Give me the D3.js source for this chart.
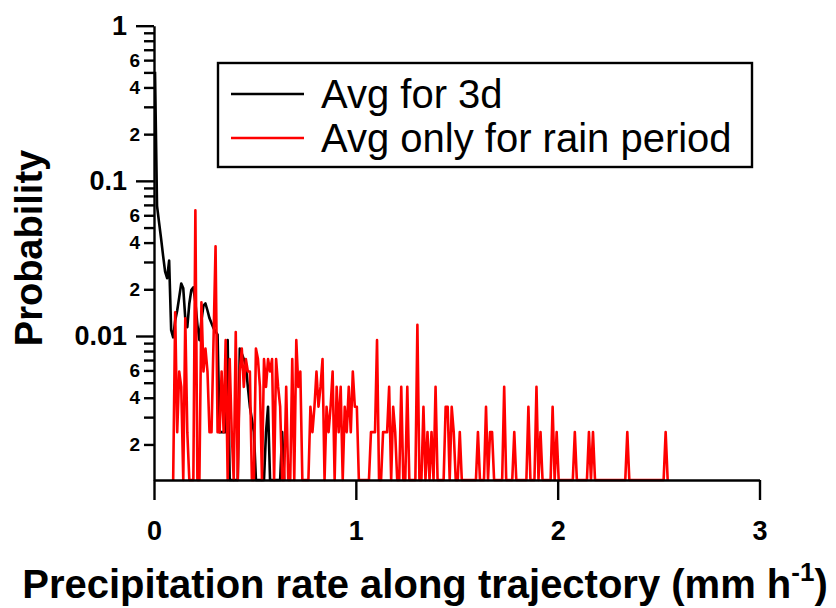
<!DOCTYPE html>
<html>
<head>
<meta charset="utf-8">
<script src="https://cdn.jsdelivr.net/npm/d3@7"></script>
<style>
  body { margin: 0; background: #fff; }
  svg text { font-family: "Liberation Sans", Arial, sans-serif; }
</style>
</head>
<body>
<svg id="chart" width="836" height="608"></svg>
<script>
// probability per 0.01 mm/h bin, [rate, probability]; 0 = empty bin
const avg3d = [
  [0.005, 0.505], [0.015, 0.069], [0.025, 0.054], [0.035, 0.0426], [0.045, 0.033],
  [0.055, 0.026], [0.065, 0.0236], [0.075, 0.0306], [0.085, 0.0109], [0.095, 0.0098],
  [0.105, 0.0126], [0.115, 0.0146], [0.125, 0.0178], [0.135, 0.0218], [0.145, 0.0203],
  [0.155, 0.013], [0.165, 0.0114], [0.175, 0.0162], [0.185, 0.0198], [0.195, 0.0206],
  [0.205, 0.0165], [0.215, 0.0118], [0.225, 0.0094], [0.235, 0.0126], [0.245, 0.0157],
  [0.255, 0.0162], [0.265, 0.0146], [0.275, 0.013], [0.285, 0.0121], [0.295, 0.0112],
  [0.305, 0.0107], [0.315, 0.0102], [0.325, 0.0024], [0.335, 0.0024], [0.345, 0.0024],
  [0.355, 0.0024], [0.365, 0.0094], [0.375, 0], [0.415, 0], [0.425, 0.0083],
  [0.435, 0.0077], [0.445, 0.0071], [0.455, 0.0065], [0.465, 0.0047], [0.475, 0.0035],
  [0.485, 0.0029], [0.495, 0.0024], [0.505, 0], [0.545, 0], [0.555, 0.0024],
  [0.565, 0.0035], [0.575, 0], [0.625, 0], [0.635, 0.0024], [0.645, 0]
];

const avgRain = [
  [0.095, 0], [0.105, 0.0142], [0.115, 0.0024], [0.125, 0.0059], [0.135, 0.0047],
  [0.145, 0], [0.155, 0.013], [0.165, 0.0024], [0.175, 0], [0.195, 0],
  [0.205, 0.0647], [0.215, 0], [0.225, 0], [0.235, 0.0165], [0.245, 0.0059],
  [0.255, 0.0083], [0.265, 0.0059], [0.275, 0.0024], [0.285, 0.0024], [0.305, 0.0379],
  [0.315, 0.0024], [0.325, 0.0024], [0.335, 0.0059], [0.345, 0.0024], [0.355, 0.0094],
  [0.365, 0], [0.375, 0.0071], [0.385, 0.0024], [0.395, 0], [0.405, 0.0106],
  [0.415, 0], [0.425, 0.0059], [0.435, 0.0083], [0.445, 0.0047], [0.455, 0.0071],
  [0.465, 0.0059], [0.475, 0.0059], [0.485, 0], [0.495, 0], [0.505, 0.0083],
  [0.515, 0.0071], [0.525, 0.0047], [0.535, 0], [0.545, 0.0071], [0.555, 0.0047],
  [0.565, 0.0071], [0.575, 0.0059], [0.585, 0.0071], [0.595, 0], [0.605, 0.0071],
  [0.615, 0.0047], [0.625, 0.0035], [0.635, 0], [0.645, 0], [0.655, 0.0047],
  [0.665, 0], [0.675, 0], [0.685, 0.0071], [0.695, 0], [0.705, 0.0094],
  [0.715, 0.0047], [0.725, 0.0059], [0.735, 0], [0.765, 0], [0.775, 0.0035],
  [0.785, 0.0024], [0.795, 0.0035], [0.805, 0.0059], [0.815, 0.0035], [0.825, 0.0047],
  [0.835, 0.0071], [0.845, 0], [0.855, 0.0035], [0.865, 0.0024], [0.875, 0.0035],
  [0.885, 0.0059], [0.895, 0], [0.905, 0.0047], [0.915, 0.0024], [0.925, 0.0047],
  [0.935, 0], [0.945, 0.0035], [0.955, 0.0024], [0.965, 0.0047], [0.975, 0.0024],
  [0.985, 0.0059], [0.995, 0.0035], [1.005, 0.0035], [1.015, 0], [1.065, 0],
  [1.075, 0.0024], [1.085, 0.0024], [1.095, 0.0024], [1.105, 0.0094], [1.115, 0],
  [1.125, 0], [1.135, 0.0024], [1.145, 0.0024], [1.155, 0.0024], [1.165, 0.0047],
  [1.175, 0], [1.185, 0.0035], [1.195, 0.0024], [1.205, 0], [1.215, 0],
  [1.225, 0.0047], [1.235, 0], [1.245, 0], [1.255, 0.0047], [1.265, 0],
  [1.295, 0], [1.305, 0.0118], [1.315, 0], [1.325, 0], [1.335, 0.0035],
  [1.345, 0], [1.355, 0.0024], [1.365, 0], [1.375, 0.0024], [1.385, 0],
  [1.395, 0.0047], [1.405, 0], [1.435, 0], [1.445, 0.0035], [1.455, 0.0035],
  [1.465, 0], [1.475, 0.0035], [1.485, 0.0024], [1.495, 0], [1.505, 0],
  [1.515, 0.0024], [1.525, 0], [1.595, 0], [1.605, 0.0024], [1.615, 0],
  [1.635, 0], [1.645, 0.0035], [1.655, 0], [1.665, 0.0024], [1.675, 0.0024],
  [1.685, 0], [1.725, 0], [1.735, 0.0047], [1.745, 0], [1.775, 0],
  [1.785, 0.0024], [1.795, 0], [1.845, 0], [1.855, 0.0035], [1.865, 0],
  [1.885, 0], [1.895, 0.0047], [1.905, 0], [1.915, 0.0024], [1.925, 0],
  [1.965, 0], [1.975, 0.0035], [1.985, 0], [1.995, 0.0024], [2.005, 0],
  [2.075, 0], [2.085, 0.0024], [2.095, 0], [2.145, 0], [2.155, 0.0024],
  [2.165, 0], [2.175, 0.0024], [2.185, 0], [2.335, 0], [2.345, 0.0024],
  [2.355, 0], [2.525, 0], [2.535, 0.0024], [2.545, 0]
];

const seriesNames = ["Avg for 3d", "Avg only for rain period"];
const seriesColors = ["#000000", "#ff0000"];

const xTicks = [0, 1, 2, 3];
const yMajorTicks = [0.01, 0.1, 1];
const yMajorLabels = ["0.01", "0.1", "1"];
const yMinorTicks = [0.002, 0.003, 0.004, 0.005, 0.006, 0.007, 0.008, 0.009,
                     0.02, 0.03, 0.04, 0.05, 0.06, 0.07, 0.08, 0.09,
                     0.2, 0.3, 0.4, 0.5, 0.6, 0.7, 0.8, 0.9];
const yMinorLabeled = { 2: "2", 4: "4", 6: "6" };

const yMin = 0.00118;

const svg = d3.select("#chart");
const plotLeft = 154, plotRight = 759.5, plotTop = 25.7, plotBottom = 480;

const x = d3.scaleLinear().domain([0, 3]).range([plotLeft, plotRight]);
const y = d3.scaleLog().domain([yMin, 1]).range([plotBottom, plotTop]);

const line = d3.line()
    .x(d => x(d[0]))
    .y(d => y(Math.max(d[1], yMin)));

// series
[avg3d, avgRain].forEach((data, i) => {
    svg.append("path")
        .datum(data)
        .attr("fill", "none")
        .attr("stroke", seriesColors[i])
        .attr("stroke-width", 2.6)
        .attr("stroke-linejoin", "round")
        .attr("d", line);
});

// y axis: majors
const yAxisMajor = svg.append("g")
    .attr("transform", `translate(${plotLeft},0)`)
    .call(d3.axisLeft(y).tickValues(yMajorTicks).tickSize(18).tickSizeOuter(0)
        .tickPadding(9).tickFormat((d, i) => yMajorLabels[i]));

// y axis: minors
const yAxisMinor = svg.append("g")
    .attr("transform", `translate(${plotLeft},0)`)
    .call(d3.axisLeft(y).tickValues(yMinorTicks).tickSize(10).tickPadding(4)
        .tickFormat(d => {
            const m = Math.round(d / Math.pow(10, Math.floor(Math.log10(d) + 1e-9)));
            return yMinorLabeled[m] || "";
        }));
yAxisMinor.select(".domain").remove();

// x axis
const xAxis = svg.append("g")
    .attr("transform", `translate(0,${plotBottom})`)
    .call(d3.axisBottom(x).tickValues(xTicks).tickSize(20).tickSizeOuter(0)
        .tickPadding(21).tickFormat(d3.format("d")));

svg.selectAll(".domain, .tick line")
    .attr("stroke", "#000")
    .attr("stroke-width", 2.4);

yAxisMajor.selectAll("text")
    .style("font-size", "27px").style("font-weight", "bold").attr("fill", "#000");
yAxisMinor.selectAll("text")
    .style("font-size", "19px").style("font-weight", "bold").attr("fill", "#000");
xAxis.selectAll("text")
    .style("font-size", "27px").style("font-weight", "bold").attr("fill", "#000");

// axis titles
svg.append("text")
    .attr("transform", "translate(42,248) rotate(-90)")
    .attr("text-anchor", "middle")
    .style("font-size", "38px")
    .style("font-weight", "bold")
    .text("Probability");

const xTitle = svg.append("text")
    .attr("x", 425)
    .attr("y", 598)
    .attr("text-anchor", "middle")
    .style("font-size", "40px")
    .style("font-weight", "bold");
xTitle.append("tspan").text("Precipitation rate along trajectory (mm h");
xTitle.append("tspan").attr("dy", -17).style("font-size", "26px").text("-1");
xTitle.append("tspan").attr("dy", 17).text(")");

// legend
const legend = svg.append("g");
legend.append("rect")
    .attr("x", 218).attr("y", 63)
    .attr("width", 534).attr("height", 104)
    .attr("fill", "#fff")
    .attr("stroke", "#000")
    .attr("stroke-width", 2.4);

seriesNames.forEach((name, i) => {
    const ly = 94 + i * 44;
    legend.append("line")
        .attr("x1", 231).attr("x2", 304)
        .attr("y1", ly).attr("y2", ly)
        .attr("stroke", seriesColors[i])
        .attr("stroke-width", 2.4);
    legend.append("text")
        .attr("x", 321)
        .attr("y", ly + 14)
        .style("font-size", "40px")
        .text(name);
});
</script>
</body>
</html>
